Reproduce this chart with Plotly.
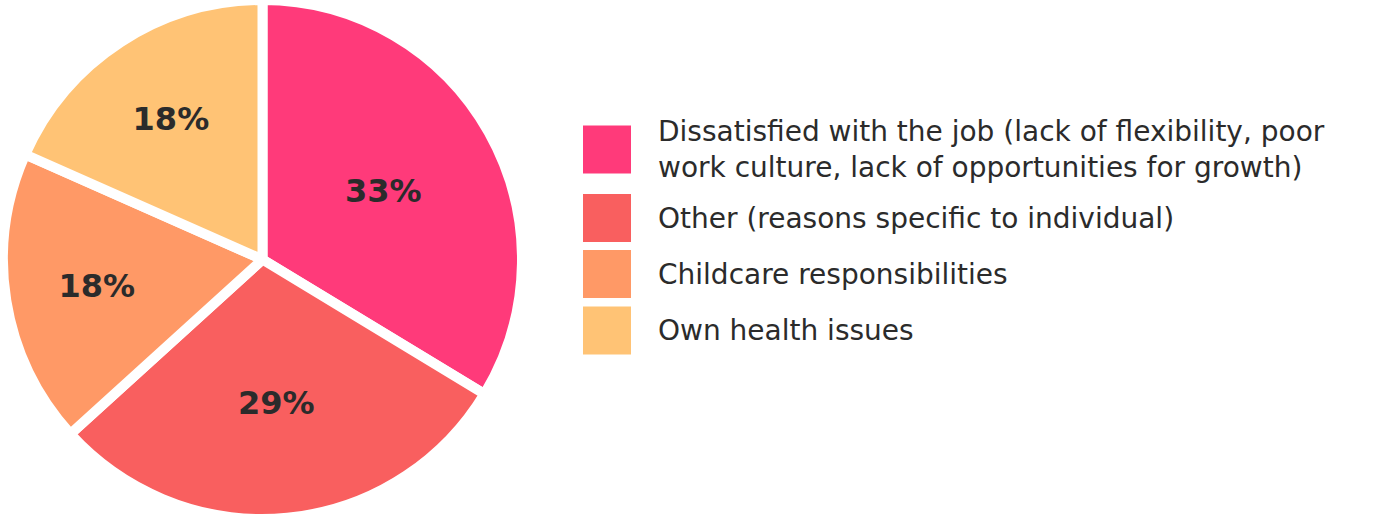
import plotly.graph_objects as go

# ---- data ----
labels = [
    "Dissatisfied with the job (lack of flexibility, poor<br>work culture, lack of opportunities for growth)",
    "Other (reasons specific to individual)",
    "Childcare responsibilities",
    "Own health issues",
]
values = [33, 29, 18, 18]
pct_text = ["33%", "29%", "18%", "18%"]
colors = ["#FF3A7A", "#F95F5F", "#FF9966", "#FFC375"]

W, H = 1382, 519
cx, r = 262.5, 259.5

fig = go.Figure(go.Pie(
    labels=labels,
    values=values,
    text=pct_text,
    texttemplate="%{text}",
    textposition="inside",
    insidetextorientation="horizontal",
    sort=False,
    direction="clockwise",
    rotation=0,
    marker=dict(colors=colors, line=dict(color="white", width=10)),
    textfont=dict(family="DejaVu Sans", size=32, color="#2B2B2B", weight="bold"),
    domain=dict(x=[(cx - r) / W, (cx + r) / W], y=[0, 1]),
    showlegend=False,
    hoverinfo="label+text",
))

# ---- custom legend (large square swatches) ----
sq_x0, sq = 583, 48
item_centers = [149.5, 218, 274, 330.5]
text_x = 656
shapes, annots = [], []
for lab, col, yc in zip(labels, colors, item_centers):
    shapes.append(dict(type="rect", xref="paper", yref="paper",
                       x0=sq_x0 / W, x1=(sq_x0 + sq) / W,
                       y0=1 - (yc + sq / 2) / H, y1=1 - (yc - sq / 2) / H,
                       fillcolor=col, line=dict(width=0)))
    annots.append(dict(xref="paper", yref="paper", x=text_x / W, y=1 - yc / H,
                       xanchor="left", yanchor="middle", text=lab, showarrow=False,
                       align="left",
                       font=dict(family="DejaVu Sans", size=28, color="#2B2B2B")))

fig.update_layout(
    width=W, height=H,
    margin=dict(l=0, r=0, t=0, b=0),
    paper_bgcolor="white", plot_bgcolor="white",
    shapes=shapes, annotations=annots,
)

fig.write_html("out.html")
